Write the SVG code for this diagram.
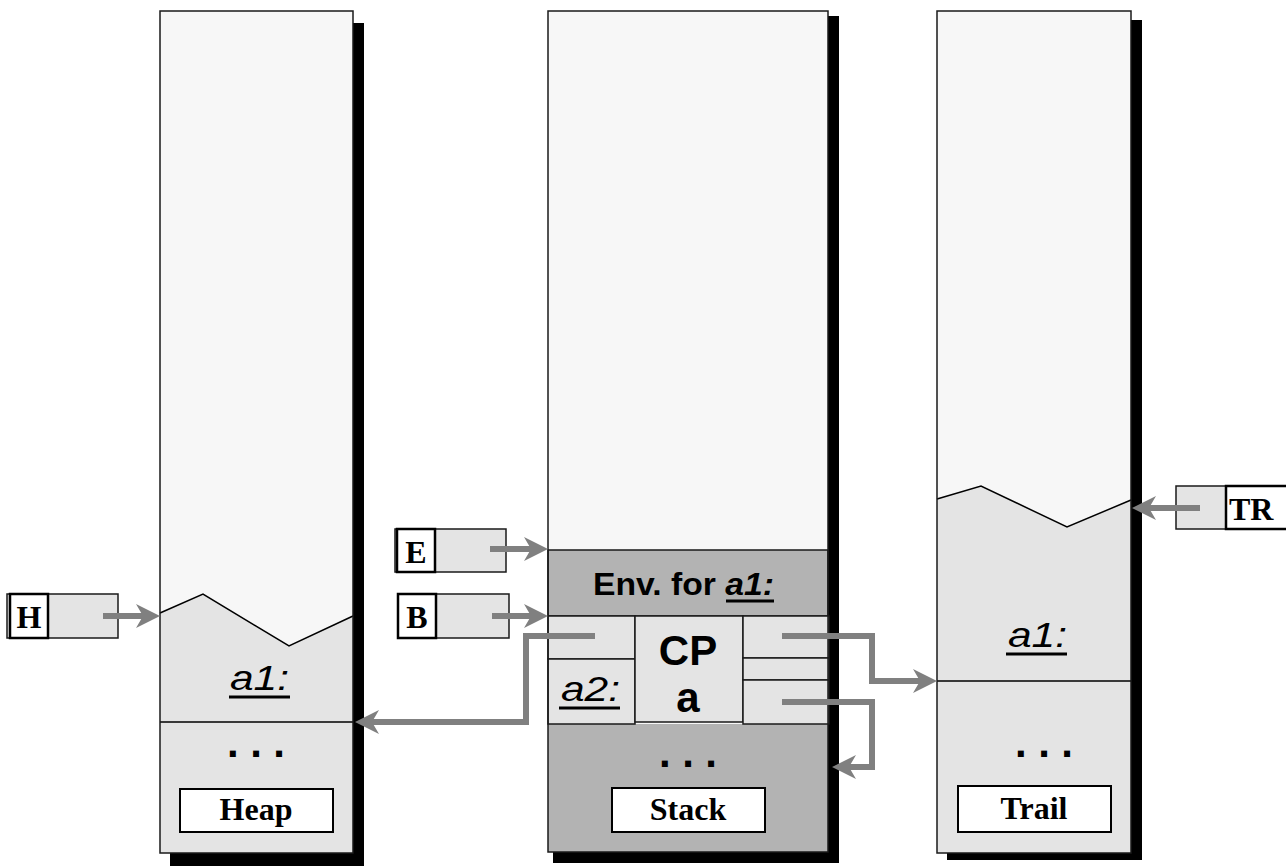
<svg xmlns="http://www.w3.org/2000/svg" width="1286" height="866" viewBox="0 0 1286 866">
<defs>
<style>
.shadow{fill:#000}
.light{fill:#f7f7f7}
.mid{fill:#e4e4e4;stroke:#1a1a1a;stroke-width:1.5}
.midnf{fill:#e4e4e4}
.dark{fill:#b3b3b3;stroke:#1a1a1a;stroke-width:1.5}
.darknf{fill:#b3b3b3}
.outline{fill:none;stroke:#1a1a1a;stroke-width:1.5}
.wave{fill:none;stroke:#000;stroke-width:1.5}
.label{fill:#fff;stroke:#000;stroke-width:2}
.serif{font-family:"Liberation Serif","Times New Roman",serif;font-weight:bold;font-size:32px;fill:#000}
.sans{font-family:"Liberation Sans",Arial,sans-serif;fill:#000}
.ital{font-family:"Liberation Sans",Arial,sans-serif;font-style:italic;font-size:35px;fill:#000}
.dots{font-family:"Liberation Sans",Arial,sans-serif;font-weight:bold;font-size:42px;fill:#000}
.ul{stroke:#000;stroke-width:3}
.regbox{fill:#e4e4e4;stroke:#1a1a1a;stroke-width:1.5}
.regname{fill:#fff;stroke:#000;stroke-width:2.5}
.conn{fill:none;stroke:#808080;stroke-width:6;stroke-linejoin:miter;stroke-linecap:butt;marker-end:url(#arrow)}
</style>
<marker id="arrow" markerUnits="userSpaceOnUse" viewBox="0 -12 24 24" markerWidth="24" markerHeight="24" refX="7" refY="0" orient="auto">
<path d="M0,-12 L24,0 L0,12 L7,0 Z" fill="#808080"/>
</marker>
</defs>

<g id="heap">
<rect class="shadow" x="170" y="23" width="194" height="843"/>
<rect class="light" x="160" y="11" width="193" height="842"/>
<polygon class="midnf" points="160,613 203,594 289,646 353,616 353,853 160,853"/>
<polyline class="wave" points="160,613 203,594 289,646 353,616"/>
<line class="wave" x1="160" y1="722" x2="353" y2="722"/>
<rect class="outline" x="160" y="11" width="193" height="842"/>
<text class="ital" x="230" y="690" textLength="59" lengthAdjust="spacingAndGlyphs">a1:</text>
<line class="ul" x1="229" y1="697" x2="290" y2="697"/>
<text class="dots" x="227" y="757" textLength="58" lengthAdjust="spacing">. . .</text>
<rect class="label" x="180" y="789" width="153" height="43"/>
<text class="serif" x="256" y="820" text-anchor="middle">Heap</text>
</g>

<g id="stack">
<rect class="shadow" x="553" y="16" width="286" height="847"/>
<rect class="light" x="548" y="11" width="280" height="841"/>
<rect class="dark" x="548" y="550" width="280" height="66"/>
<rect class="darknf" x="548" y="724" width="280" height="128"/>
<rect class="mid" x="548" y="616" width="87" height="43"/>
<rect class="mid" x="548" y="659" width="87" height="65"/>
<rect class="mid" x="635" y="616" width="108" height="106"/>
<rect class="mid" x="743" y="616" width="86" height="42"/>
<rect class="mid" x="743" y="658" width="86" height="22"/>
<rect class="mid" x="743" y="680" width="86" height="44"/>
<rect class="outline" x="548" y="11" width="280" height="841"/>
<text class="sans" x="593" y="595" font-size="31" font-weight="bold" textLength="181" lengthAdjust="spacingAndGlyphs">Env. for <tspan font-style="italic">a1:</tspan></text>
<line class="ul" x1="726" y1="601" x2="774" y2="601"/>
<text class="sans" x="688" y="665" font-size="42" font-weight="bold" text-anchor="middle">CP</text>
<text class="sans" x="688" y="712" font-size="42" font-weight="bold" text-anchor="middle">a</text>
<text class="ital" x="561" y="701" textLength="59" lengthAdjust="spacingAndGlyphs">a2:</text>
<line class="ul" x1="559" y1="708" x2="620" y2="708"/>
<text class="dots" x="659" y="767" textLength="58" lengthAdjust="spacing">. . .</text>
<rect class="label" x="612" y="788" width="153" height="44"/>
<text class="serif" x="688" y="820" text-anchor="middle">Stack</text>
</g>

<g id="trail">
<rect class="shadow" x="947" y="20" width="195" height="840"/>
<rect class="light" x="937" y="11" width="194" height="842"/>
<polygon class="midnf" points="937,499 981,486 1067,527 1131,500 1131,853 937,853"/>
<polyline class="wave" points="937,499 981,486 1067,527 1131,500"/>
<line class="wave" x1="937" y1="681" x2="1131" y2="681"/>
<rect class="outline" x="937" y="11" width="194" height="842"/>
<text class="ital" x="1008" y="647" textLength="59" lengthAdjust="spacingAndGlyphs">a1:</text>
<line class="ul" x1="1006" y1="654" x2="1067" y2="654"/>
<text class="dots" x="1015" y="757" textLength="58" lengthAdjust="spacing">. . .</text>
<rect class="label" x="958" y="786" width="153" height="46"/>
<text class="serif" x="1034" y="819" text-anchor="middle">Trail</text>
</g>

<g id="reg-H">
<rect class="regbox" x="7" y="594" width="111" height="44"/>
<rect class="regname" x="10" y="594" width="38" height="44"/>
<text class="serif" x="29" y="628" text-anchor="middle">H</text>
</g>

<g id="reg-E">
<rect class="regbox" x="395" y="529" width="111" height="43"/>
<rect class="regname" x="397" y="529" width="38" height="43"/>
<text class="serif" x="416" y="563" text-anchor="middle">E</text>
</g>

<g id="reg-B">
<rect class="regbox" x="398" y="594" width="111" height="44"/>
<rect class="regname" x="398" y="594" width="38" height="44"/>
<text class="serif" x="417" y="628" text-anchor="middle">B</text>
</g>

<g id="reg-TR">
<rect class="regbox" x="1176" y="486" width="50" height="43"/>
<rect class="regname" x="1226" y="486" width="70" height="43"/>
<text class="serif" x="1229" y="520">TR</text>
</g>

<g id="connectors">
<line class="conn" x1="103" y1="616" x2="143" y2="616"/>
<line class="conn" x1="490" y1="549" x2="531" y2="549"/>
<line class="conn" x1="492" y1="616" x2="531" y2="616"/>
<line class="conn" x1="1200" y1="508" x2="1149" y2="508"/>
<polyline class="conn" points="595,636 526,636 526,722 372,722"/>
<polyline class="conn" points="782,636 872,636 872,681 920,681"/>
<polyline class="conn" points="782,702 872,702 872,767 849,767"/>
</g>
</svg>
